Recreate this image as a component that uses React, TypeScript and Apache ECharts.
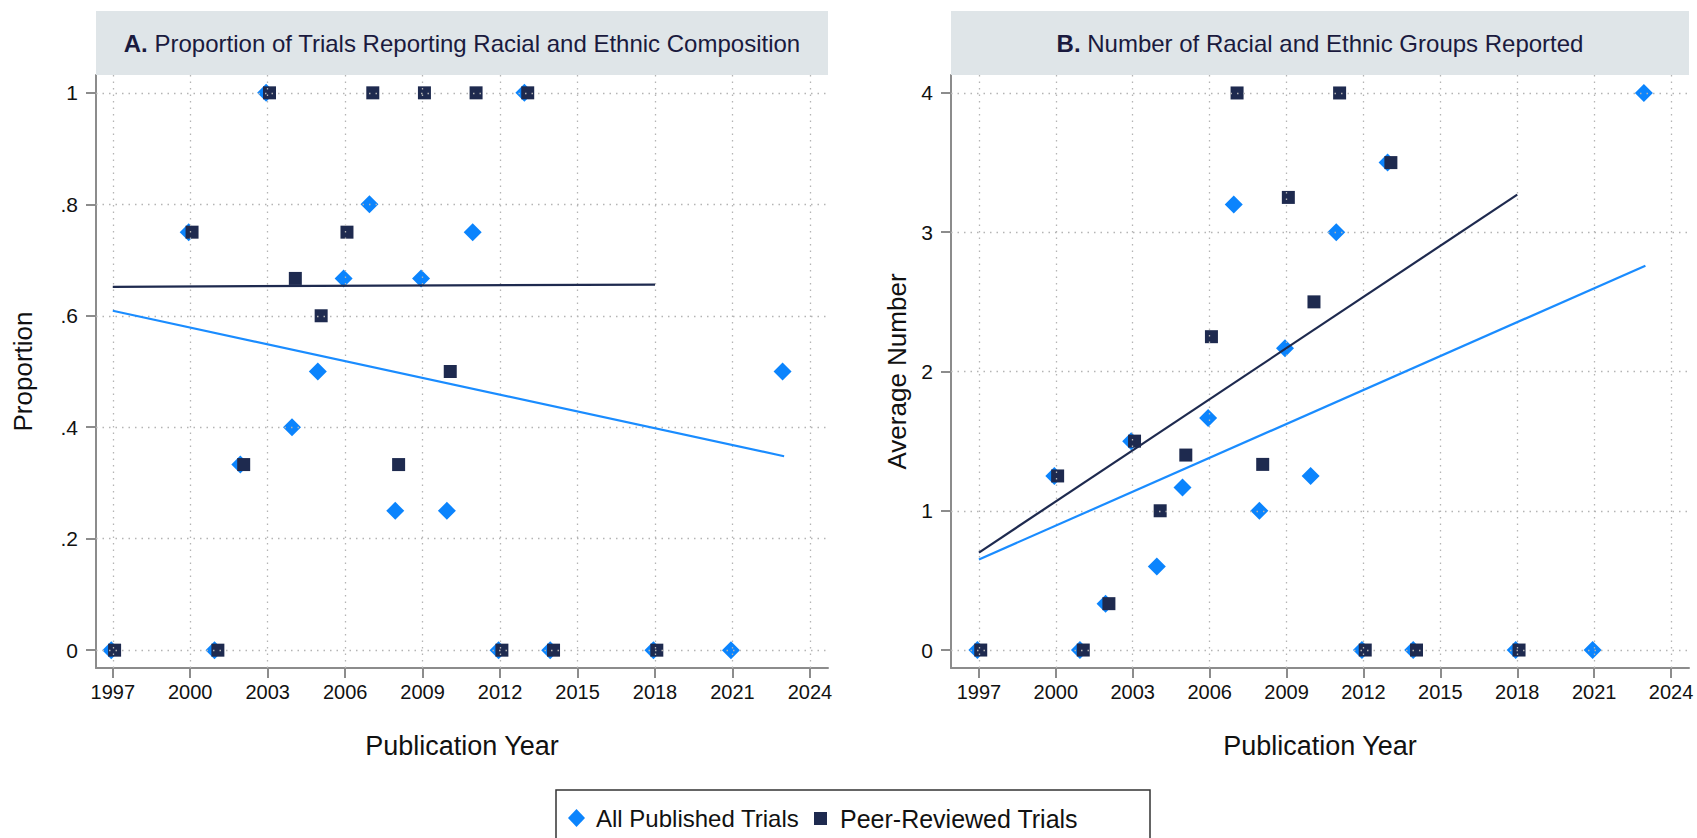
import React, { useEffect, useRef } from "react";
import * as echarts from "echarts";

// ---- data ----
const allYears = [1997, 2000, 2001, 2002, 2003, 2004, 2005, 2006, 2007, 2008, 2009, 2010, 2011, 2012, 2013, 2014, 2018, 2021, 2023];
const allPropA = [0, 0.75, 0, 0.333, 1, 0.4, 0.5, 0.667, 0.8, 0.25, 0.667, 0.25, 0.75, 0, 1, 0, 0, 0, 0.5];
const allNumB = [0, 1.25, 0, 0.333, 1.5, 0.6, 1.167, 1.667, 3.2, 1.0, 2.167, 1.25, 3.0, 0, 3.5, 0, 0, 0, 4.0];

const peerYears = [1997, 2000, 2001, 2002, 2003, 2004, 2005, 2006, 2007, 2008, 2009, 2010, 2011, 2012, 2013, 2014, 2018];
const peerPropA = [0, 0.75, 0, 0.333, 1, 0.667, 0.6, 0.75, 1, 0.333, 1, 0.5, 1, 0, 1, 0, 0];
const peerNumB = [0, 1.25, 0, 0.333, 1.5, 1.0, 1.4, 2.25, 4.0, 1.333, 3.25, 2.5, 4.0, 0, 3.5, 0, 0];

// linear fit endpoints
const fitAllYears = [1997, 2023];
const fitPeerYears = [1997, 2018];
const fitAllA = [0.609, 0.348];
const fitPeerA = [0.652, 0.656];
const fitAllB = [0.65, 2.76];
const fitPeerB = [0.7, 3.27];

const xTicks = [1997, 2000, 2003, 2006, 2009, 2012, 2015, 2018, 2021, 2024];
const yTicksA = [0, 0.2, 0.4, 0.6, 0.8, 1];
const yTicksB = [0, 1, 2, 3, 4];

const titleA = "Proportion of Trials Reporting Racial and Ethnic Composition";
const titleB = "Number of Racial and Ethnic Groups Reported";
const seriesAll = "All Published Trials";
const seriesPeer = "Peer-Reviewed Trials";

const FONT = "'Liberation Sans', Helvetica, Arial, sans-serif";
const BLUE = "#0b84fd";
const NAVY = "#1e2a4f";
const AXIS = "#8c8c8c";
const GRIDC = "#b4b4b4";

const W = 1697;
const H = 838;

const gridA = { left: 96, top: 75, width: 732, height: 593 };
const gridB = { left: 951, top: 75, width: 738, height: 593 };

const pairs = (xs: number[], ys: number[], dx = 0) => xs.map((x, i) => [x + dx, ys[i]]);

function xAxisCfg(gridIndex: number, min: number, max: number) {
  return {
    type: "value",
    gridIndex,
    min,
    max,
    name: "Publication Year",
    nameLocation: "middle",
    nameGap: 64,
    nameTextStyle: { fontSize: 27, color: "#111", fontFamily: FONT },
    axisLine: { show: true, onZero: false, lineStyle: { color: AXIS, width: 2 } },
    axisTick: { show: true, length: 10, customValues: xTicks, lineStyle: { color: AXIS, width: 2 } },
    axisLabel: {
      customValues: xTicks,
      fontSize: 20,
      color: "#111",
      fontFamily: FONT,
      margin: 14,
      formatter: (v: number) => String(v),
    },
    splitLine: { show: false },
  };
}

function yAxisCfg(gridIndex: number, min: number, max: number, ticks: number[], name: string, gap: number, fmt: (v: number) => string) {
  return {
    type: "value",
    gridIndex,
    min,
    max,
    name,
    nameLocation: "middle",
    nameGap: gap,
    nameTextStyle: { fontSize: 26, color: "#111", fontFamily: FONT },
    axisLine: { show: true, onZero: false, lineStyle: { color: AXIS, width: 2 } },
    axisTick: { show: true, length: 10, customValues: ticks, lineStyle: { color: AXIS, width: 2 } },
    axisLabel: { customValues: ticks, fontSize: 21, color: "#111", fontFamily: FONT, margin: 18, formatter: fmt },
    splitLine: { show: false },
  };
}

const fmtProp = (v: number) => {
  if (v === 0) return "0";
  if (v === 1) return "1";
  return "." + Math.round(v * 10);
};

function gridLinesSeries(idx: number, yTicks: number[]) {
  return {
    type: "line",
    xAxisIndex: idx,
    yAxisIndex: idx,
    data: [],
    silent: true,
    z: 1,
    markLine: {
      silent: true,
      symbol: ["none", "none"],
      label: { show: false },
      animation: false,
      lineStyle: { color: GRIDC, width: 1.3, type: [1.5, 5] },
      data: [...xTicks.map((v) => ({ xAxis: v })), ...yTicks.map((v) => ({ yAxis: v }))],
    },
  };
}

function scatter(idx: number, name: string, data: number[][], symbol: string, size: number, color: string, z: number) {
  return {
    type: "scatter",
    name,
    xAxisIndex: idx,
    yAxisIndex: idx,
    data,
    symbol,
    symbolSize: size,
    itemStyle: { color, opacity: 1 },
    z,
    silent: true,
  };
}

function fitLine(idx: number, name: string, xs: number[], ys: number[], color: string) {
  return {
    type: "line",
    name,
    xAxisIndex: idx,
    yAxisIndex: idx,
    data: pairs(xs, ys),
    showSymbol: false,
    symbol: "none",
    lineStyle: { color, width: 2.2 },
    z: 5,
    silent: true,
  };
}

export default function App() {
  const ref = useRef<HTMLDivElement>(null);

  useEffect(() => {
    if (!ref.current) return;
    const chart = echarts.init(ref.current, undefined, { renderer: "svg" });
    const titleStyle = (letter: string, text: string, cx: number) => ({
      type: "text",
      x: cx,
      y: 43,
      silent: true,
      style: {
        text: `{b|${letter}} ${text}`,
        align: "center",
        verticalAlign: "middle",
        fontSize: 24,
        fontFamily: FONT,
        fill: "#1a1a3e",
        rich: {
          b: { fontSize: 24, fontWeight: "bold", fontFamily: FONT, fill: "#1a1a3e", color: "#1a1a3e" },
        },
      },
      z: 20,
    });

    chart.setOption({
      animation: false,
      backgroundColor: "#ffffff",
      grid: [
        { ...gridA, containLabel: false },
        { ...gridB, containLabel: false },
      ],
      xAxis: [xAxisCfg(0, 1996.35, 2024.7), xAxisCfg(1, 1995.91, 2024.7)],
      yAxis: [
        yAxisCfg(0, -0.032, 1.032, yTicksA, "Proportion", 60, fmtProp),
        yAxisCfg(1, -0.129, 4.129, yTicksB, "Average Number", 41, (v: number) => String(v)),
      ],
      legend: [
        {
          data: [{ name: seriesAll, icon: "diamond" }],
          left: 563,
          top: 801,
          itemWidth: 17,
          itemHeight: 18,
          selectedMode: false,
          textStyle: { fontSize: 24, color: "#111", fontFamily: FONT, padding: [0, 0, 0, 6] },
        },
        {
          data: [{ name: seriesPeer, icon: "rect" }],
          left: 809,
          top: 801,
          itemWidth: 13,
          itemHeight: 13,
          selectedMode: false,
          textStyle: { fontSize: 25, color: "#111", fontFamily: FONT, padding: [0, 0, 0, 8] },
        },
      ],
      graphic: [
        {
          type: "rect",
          shape: { x: gridA.left, y: 11, width: gridA.width, height: 64 },
          style: { fill: "#dfe5e8" },
          silent: true,
          z: 10,
        },
        {
          type: "rect",
          shape: { x: gridB.left, y: 11, width: gridB.width, height: 64 },
          style: { fill: "#dfe5e8" },
          silent: true,
          z: 10,
        },
        titleStyle("A.", titleA, gridA.left + gridA.width / 2),
        titleStyle("B.", titleB, gridB.left + gridB.width / 2),
        {
          type: "rect",
          shape: { x: 556, y: 790, width: 594, height: 80 },
          style: { fill: "none", stroke: "#333", lineWidth: 1.5 },
          silent: true,
          z: 10,
        },
      ],
      series: [
        gridLinesSeries(0, yTicksA),
        gridLinesSeries(1, yTicksB),
        scatter(0, seriesAll, pairs(allYears, allPropA, -0.06), "diamond", 18, BLUE, 3),
        scatter(0, seriesPeer, pairs(peerYears, peerPropA, 0.07), "rect", 13, NAVY, 4),
        scatter(1, seriesAll, pairs(allYears, allNumB, -0.06), "diamond", 18, BLUE, 3),
        scatter(1, seriesPeer, pairs(peerYears, peerNumB, 0.07), "rect", 13, NAVY, 4),
        fitLine(0, "fitAllA", fitAllYears, fitAllA, "#1a8cff"),
        fitLine(0, "fitPeerA", fitPeerYears, fitPeerA, NAVY),
        fitLine(1, "fitAllB", fitAllYears, fitAllB, "#1a8cff"),
        fitLine(1, "fitPeerB", fitPeerYears, fitPeerB, NAVY),
      ],
    });
    return () => chart.dispose();
  }, []);

  return (
    <div
      ref={ref}
      style={{ position: "fixed", left: 0, top: 0, width: W, height: H, background: "#fff" }}
    />
  );
}
